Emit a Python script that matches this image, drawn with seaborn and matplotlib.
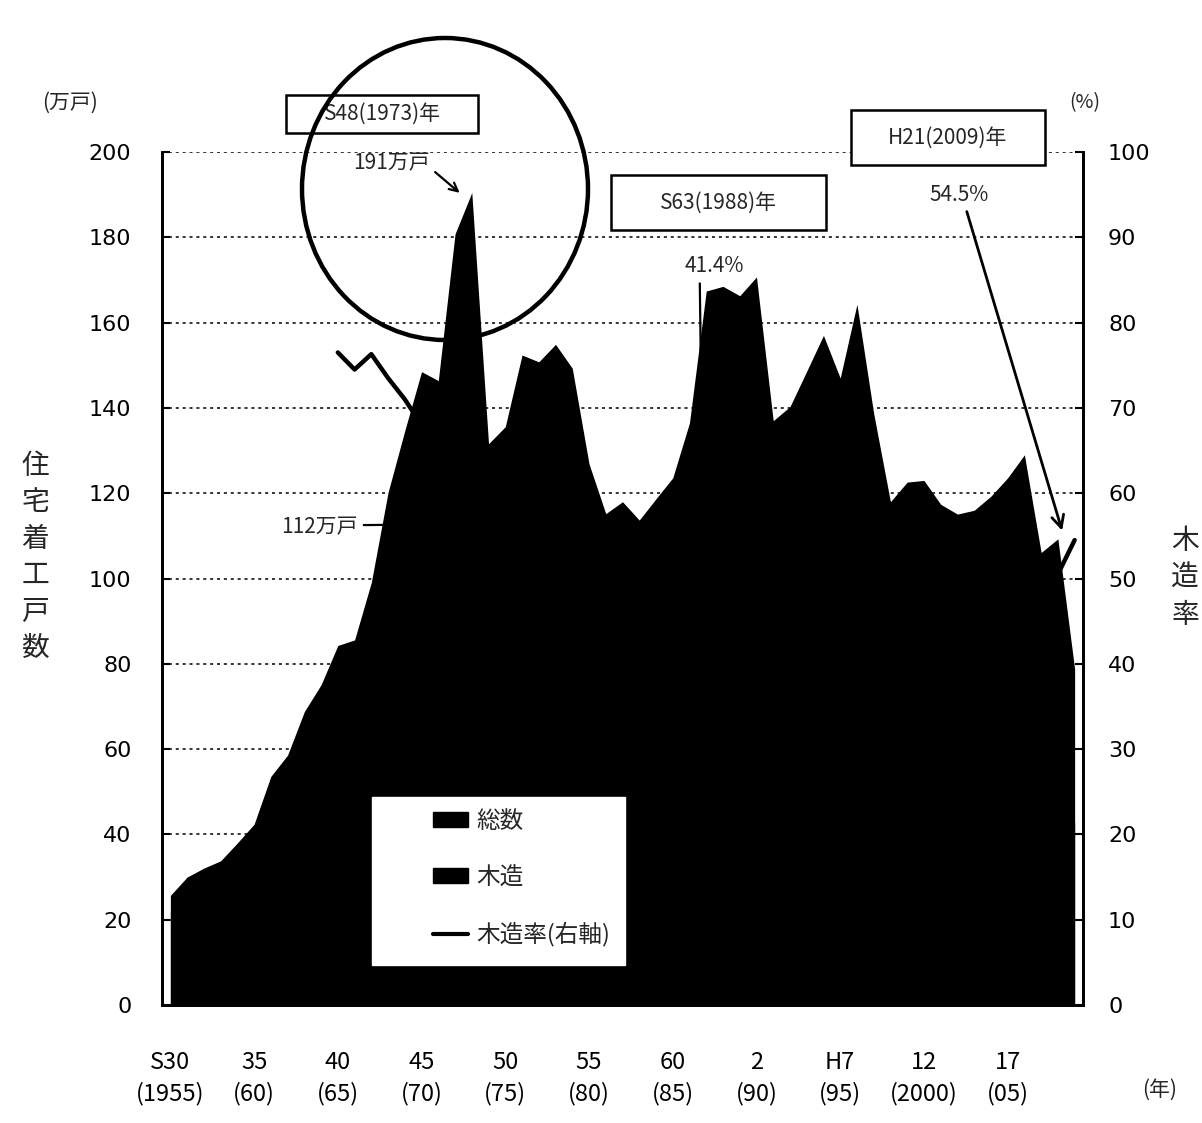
import numpy as np
import pandas as pd
import matplotlib
matplotlib.use("Agg")
import matplotlib.pyplot as plt
from matplotlib import font_manager
from matplotlib.patches import Rectangle, Ellipse, Patch
from matplotlib.lines import Line2D
import seaborn as sns

# ---------------- data ----------------
years = list(range(1955, 2010))
total_starts = [25.7, 30.0, 32.1, 33.8, 38.0, 42.4, 53.6, 58.6, 68.8, 75.1,
                84.3, 85.6, 99.1, 120.2, 134.7, 148.5, 146.4, 180.8, 190.5, 131.6,
                135.6, 152.4, 150.8, 154.9, 149.3, 126.9, 115.2, 118.0, 113.7, 118.7,
                123.6, 136.5, 167.4, 168.5, 166.3, 170.7, 137.0, 140.3, 148.6, 157.0,
                147.0, 164.3, 138.7, 118.0, 122.6, 123.0, 117.4, 115.1, 116.0, 119.3,
                123.6, 129.0, 106.1, 109.3, 78.8]
wood_starts = [22.0, 26.0, 27.5, 29.0, 32.0, 35.0, 43.0, 46.0, 53.0, 57.0,
               64.5, 63.8, 75.6, 88.3, 95.6, 101.0, 95.2, 113.9, 112.0, 82.9,
               88.1, 94.5, 92.0, 92.9, 89.6, 73.6, 64.5, 64.9, 60.3, 60.5,
               60.6, 62.8, 72.0, 69.8, 69.8, 72.5, 63.0, 68.7, 72.8, 73.8,
               66.2, 73.9, 63.8, 56.6, 58.8, 56.6, 55.2, 52.9, 53.4, 54.9,
               54.4, 55.5, 53.6, 55.2, 42.9]
ratio_years = list(range(1965, 2010))
wood_ratio = [76.5, 74.5, 76.3, 73.5, 71.0, 68.0, 65.0, 63.0, 61.0, 63.0,
              65.0, 62.0, 61.0, 60.0, 60.0, 58.0, 56.0, 55.0, 53.0, 51.0,
              49.0, 46.0, 43.0, 41.4, 42.0, 42.5, 46.0, 49.0, 49.0, 47.0,
              45.0, 45.0, 46.0, 48.0, 48.0, 46.0, 47.0, 46.0, 46.0, 46.0,
              44.0, 43.0, 50.5, 50.5, 54.5]
tick_years = [1955, 1960, 1965, 1970, 1975, 1980, 1985, 1990, 1995, 2000, 2005]
tick_labels = ["S30\n(1955)", "35\n(60)", "40\n(65)", "45\n(70)", "50\n(75)",
               "55\n(80)", "60\n(85)", "2\n(90)", "H7\n(95)", "12\n(2000)", "17\n(05)"]
legend_labels = ["総数", "木造", "木造率(右軸)"]

df = pd.DataFrame({"year": years, "total": total_starts, "wood": wood_starts})
dr = pd.DataFrame({"year": ratio_years, "ratio": wood_ratio})

# ---------------- style ----------------
sns.set_theme(style="white")
CJK = "Noto Sans CJK JP"
plt.rcParams["font.family"] = [CJK, "DejaVu Sans"]
names = {f.name for f in font_manager.fontManager.ttflist}
if "Liberation Sans Narrow" in names:
    NARROW = ["Liberation Sans Narrow", CJK]
    xfs, boxfs, xls = 21, 17, 1.2
else:
    NARROW = [CJK, "DejaVu Sans"]
    xfs, boxfs, xls = 17, 15, 1.4
NUM = ["DejaVu Sans"]

fig = plt.figure(figsize=(12.02, 11.23), dpi=100)
ax = fig.add_axes([162 / 1202, 1 - 1005 / 1123, 921 / 1202, 853 / 1123])
ax2 = ax.twinx()

# areas
ax.fill_between(df["year"], 0, df["total"], color="black", lw=0, zorder=2)
ax.fill_between(df["year"], 0, df["wood"], color="black", lw=0, zorder=3)
# ratio line
sns.lineplot(data=dr, x="year", y="ratio", ax=ax2, color="black", lw=3.2, legend=False)

ax.set_xlim(1954.5, 2009.5)
ax.set_ylim(0, 200)
ax2.set_ylim(0, 100)

ax.set_yticks(np.arange(0, 201, 20))
ax2.set_yticks(np.arange(0, 101, 10))
ax.set_xticks(tick_years)
ax.set_xticklabels(tick_labels, family=NARROW, fontsize=xfs, linespacing=xls)
for lab in ax.get_yticklabels():
    lab.set_family(NUM)
for lab in ax2.get_yticklabels():
    lab.set_family(NUM)
ax.tick_params(axis="y", direction="in", length=6, width=1.5, pad=22, labelsize=16, colors="black")
ax2.tick_params(axis="y", direction="in", length=6, width=1.5, pad=18, labelsize=16, colors="black")
ax.tick_params(axis="x", length=0, pad=33, colors="black")
ax.set_xlabel("")
ax.set_ylabel("")
ax2.set_xlabel("")
ax2.set_ylabel("")

ax.set_axisbelow(True)
ax.yaxis.grid(True, linestyle=(0, (2, 2.5)), color="black", lw=1.1)
ax.xaxis.grid(False)
ax2.grid(False)
for a in (ax, ax2):
    a.spines["top"].set_visible(False)
    for s in ("left", "right", "bottom"):
        a.spines[s].set_color("black")
        a.spines[s].set_linewidth(2)

# ---------------- legend ----------------
ax2.add_patch(Rectangle((0.228, 0.047), 0.2747, 0.197, transform=ax2.transAxes,
                        facecolor="white", edgecolor="white", zorder=5))
handles = [Patch(facecolor="black", edgecolor="black"),
           Patch(facecolor="black", edgecolor="black"),
           Line2D([0], [0], color="black", lw=3)]
leg = ax2.legend(handles, legend_labels, loc="upper left",
                 bbox_to_anchor=(0.294, 0.229), frameon=False, fontsize=17,
                 handlelength=1.5, handleheight=0.6, handletextpad=0.35,
                 labelspacing=1.4, borderpad=0, borderaxespad=0)
leg.set_zorder(6)

# ---------------- annotations ----------------
ax.annotate("191万戸", xy=(1972.4, 190), xytext=(1968.2, 197.4),
            ha="center", va="center", fontsize=boxfs, family=NARROW,
            arrowprops=dict(arrowstyle="->", color="black", lw=1.6, relpos=(1, 0.3)),
            zorder=7)
ax.annotate("112万戸", xy=(1968.8, 112.6), xytext=(1963.9, 112),
            ha="center", va="center", fontsize=boxfs, family=NARROW,
            arrowprops=dict(arrowstyle="->", color="black", lw=1.6, relpos=(1, 0.6)),
            zorder=7)
ax2.annotate("41.4%", xy=(1986.9, 41.4), xytext=(1987.5, 86.6),
             ha="center", va="center", fontsize=boxfs, family=NARROW,
             arrowprops=dict(arrowstyle="-", color="black", lw=1.6, relpos=(0.25, 0)),
             zorder=7)
ax2.annotate("54.5%", xy=(2008.3, 55.3), xytext=(2002.1, 95.0),
             ha="center", va="center", fontsize=boxfs, family=NARROW,
             arrowprops=dict(arrowstyle="->", color="black", lw=2, relpos=(0.6, 0),
                             mutation_scale=22),
             zorder=7)

W, H = 1202, 1123


def fig_box(x0, y0, x1, y1, text):
    fig.patches.append(Rectangle((x0 / W, 1 - y1 / H), (x1 - x0) / W, (y1 - y0) / H,
                                 transform=fig.transFigure, facecolor="white",
                                 edgecolor="black", lw=1.8, zorder=8))
    fig.text((x0 + x1) / 2 / W, 1 - (y0 + y1) / 2 / H, text, ha="center", va="center",
             fontsize=boxfs, family=NARROW, zorder=9)


fig_box(286, 95, 478, 133, "S48(1973)年")
fig_box(611, 175, 826, 230, "S63(1988)年")
fig_box(851, 110, 1045, 165, "H21(2009)年")

fig.patches.append(Ellipse((445 / W, 1 - 189 / H), 286 / W, 302 / H,
                           transform=fig.transFigure, facecolor="none",
                           edgecolor="black", lw=3.2, zorder=10))

# axis captions
fig.text(70 / W, 1 - 103 / H, "(万戸)", ha="center", va="center", fontsize=15)
fig.text(1085 / W, 1 - 103 / H, "(%)", ha="center", va="center", fontsize=14)
fig.text(1160 / W, 1 - 1090 / H, "(年)", ha="center", va="center", fontsize=15)
fig.text(35 / W, 1 - 557 / H, "\n".join("住宅着工戸数"), ha="center", va="center",
         fontsize=20, linespacing=1.28)
fig.text(1185 / W, 1 - 578 / H, "\n".join("木造率"), ha="center", va="center",
         fontsize=20, linespacing=1.3)

fig.savefig("out.png", dpi=100, facecolor="white")
